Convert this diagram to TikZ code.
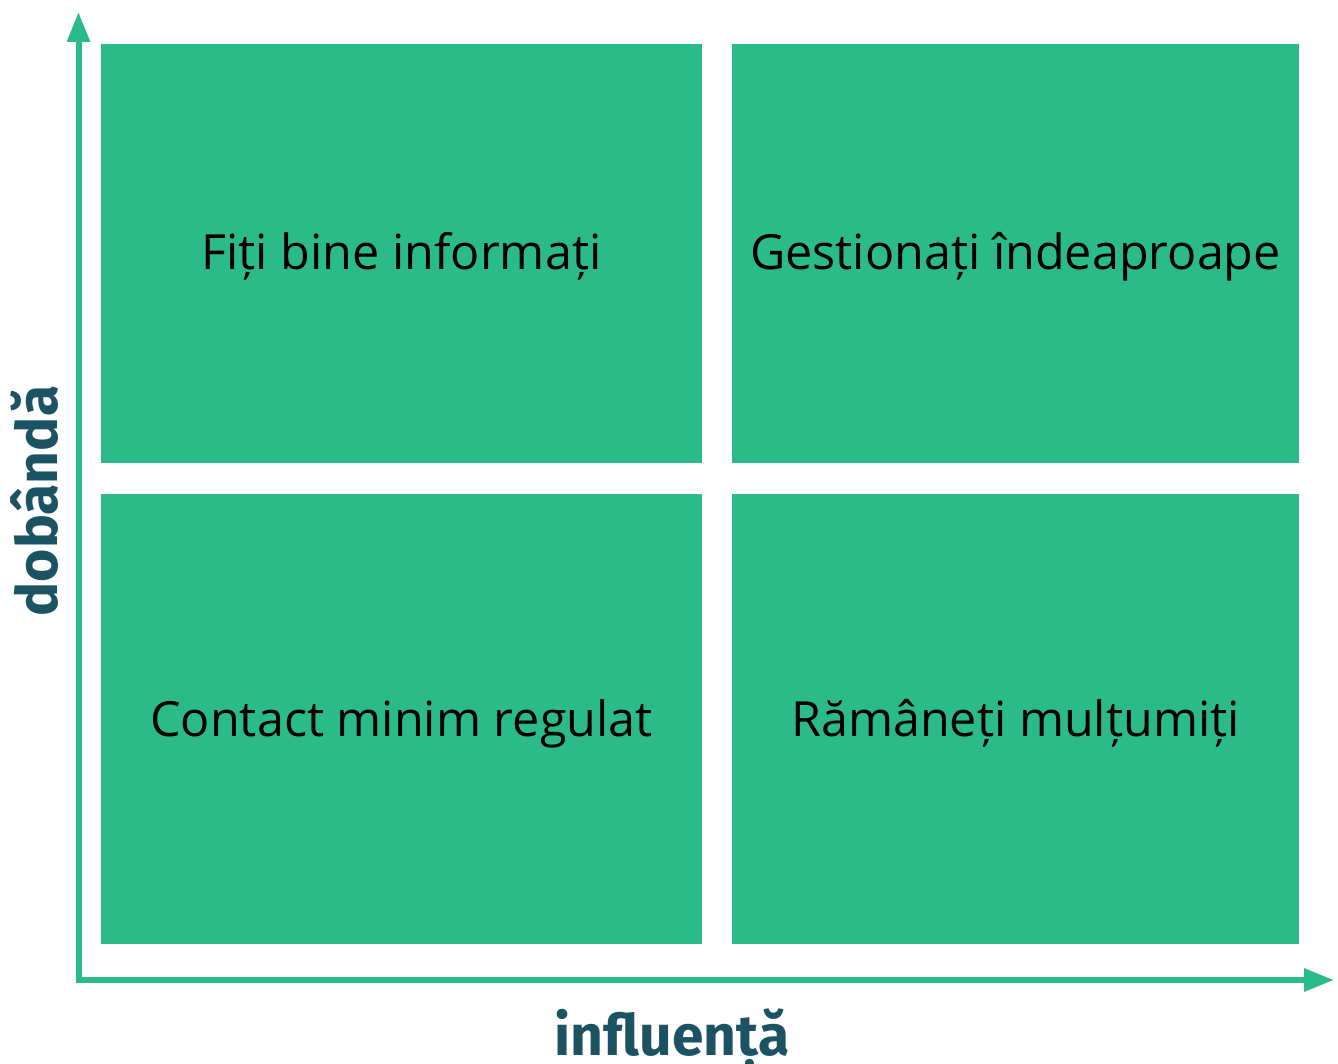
\documentclass[tikz,border=0pt]{standalone}
\usepackage{fontspec}
\setmainfont{Open Sans}
\newfontfamily\axisfont{Fira Sans}
\usetikzlibrary{arrows.meta}
\definecolor{quadgreen}{HTML}{2BBB89}
\definecolor{axisteal}{HTML}{1B5362}
\begin{document}
\begin{tikzpicture}[x=1pt,y=-1pt,
  quad/.style={fill=quadgreen,draw=none},
  quadtext/.style={font=\fontsize{48.5}{52}\selectfont,text=black,anchor=base},
  axisline/.style={draw=quadgreen,line width=6pt,-{Triangle[length=30pt,width=22pt]}},
  axislabel/.style={font=\axisfont\bfseries\fontsize{57}{60}\selectfont,text=axisteal,anchor=base}]
\useasboundingbox (0,0) rectangle (1338,1064);
\fill[quad] (101,44) rectangle (702,463);
\fill[quad] (732,44) rectangle (1299,463);
\fill[quad] (101,494) rectangle (702,944);
\fill[quad] (732,494) rectangle (1299,944);
\node[quadtext] (tl) at (401.5,270) {Fiți bine informați};
\node[quadtext] (tr) at (1015.5,270) {Gestionați îndeaproape};
\node[quadtext] (bl) at (401.5,736) {Contact minim regulat};
\node[quadtext] (br) at (1015.5,736) {Rămâneți mulțumiți};
\coordinate (ytop) at (78.5,12);
\coordinate (xend) at (1334,980);
\draw[axisline] (78.5,983) -- (ytop);
\draw[axisline] (75.5,980) -- (xend);
\node[axislabel] (xl) at (672,1055) {influență};
\node[axislabel,rotate=90] (yl) at (57,501) {dobândă};
\end{tikzpicture}
\end{document}
